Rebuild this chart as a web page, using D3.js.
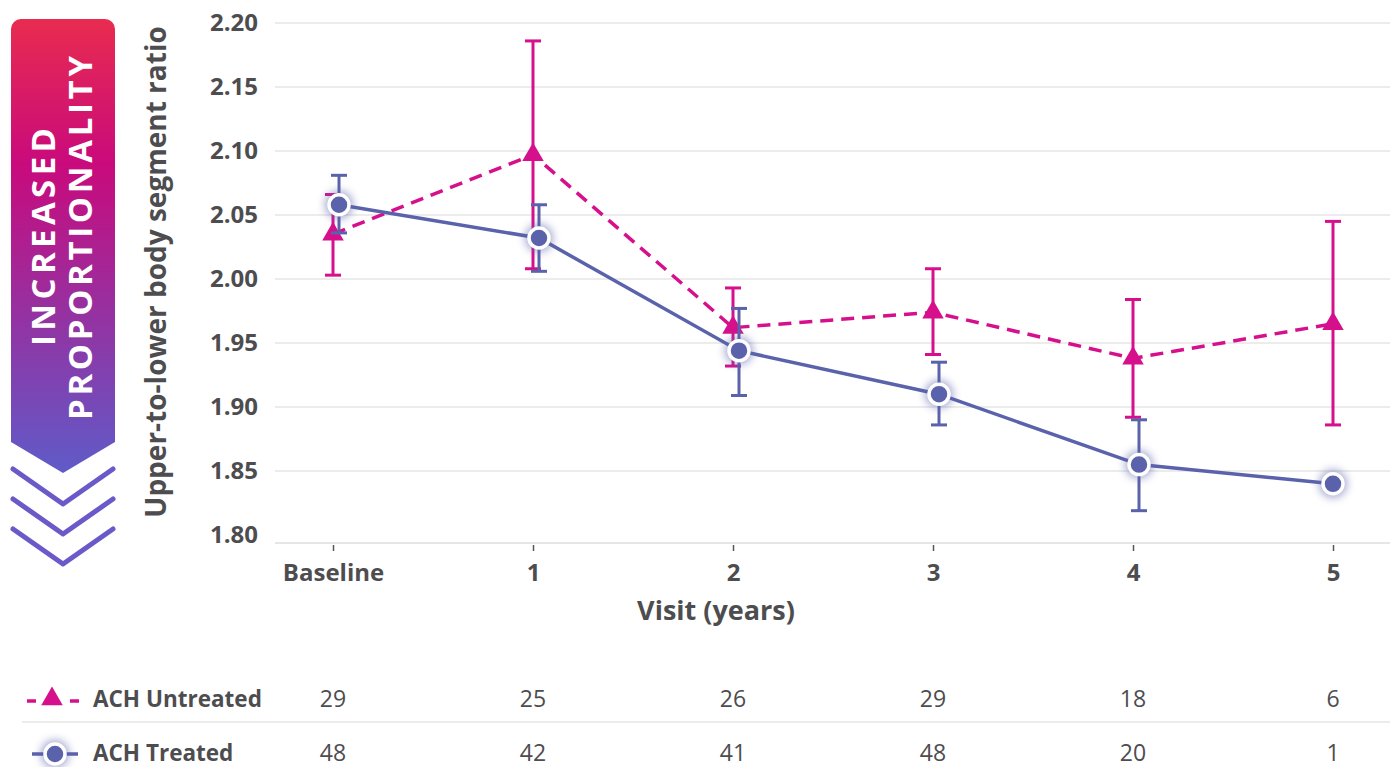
<!DOCTYPE html>
<html>
<head>
<meta charset="utf-8">
<script src="https://cdn.jsdelivr.net/npm/d3@7"></script>
<style>
  body { margin: 0; background: #fff; }
  svg { display: block; font-family: "Open Sans", sans-serif; }
</style>
</head>
<body>
<svg width="1390" height="767"></svg>
<script>
// data
let visits = ["Baseline", "1", "2", "3", "4", "5"];
let yTicks = [1.80, 1.85, 1.90, 1.95, 2.00, 2.05, 2.10, 2.15, 2.20];

let untreatedMean = [2.035, 2.097, 1.962, 1.974, 1.938, 1.965];
let untreatedLow  = [2.003, 2.008, 1.932, 1.941, 1.892, 1.886];
let untreatedHigh = [2.066, 2.186, 1.993, 2.008, 1.984, 2.045];

let treatedMean = [2.058, 2.032, 1.944, 1.910, 1.855, 1.840];
let treatedLow  = [2.036, 2.006, 1.909, 1.886, 1.819, null];
let treatedHigh = [2.081, 2.058, 1.977, 1.935, 1.890, null];

let untreatedN = [29, 25, 26, 29, 18, 6];
let treatedN   = [48, 42, 41, 48, 20, 1];

let magenta = '#d6108c';
let blue = '#5a62ab';
let textCol = '#4d4d4f';
let gridCol = '#e6e6e6';

let svg = d3.select('svg');

let x = d3.scalePoint().domain(visits).range([333, 1333]);
let y = d3.scaleLinear().domain([1.80, 2.20]).range([535, 23]);

// treated series is nudged right where it has an error bar
let tx = (d, i) => x(visits[i]) + (treatedLow[i] != null ? 6 : 0);
let ux = (d, i) => x(visits[i]);

let defs = svg.append('defs');
let grad = defs.append('linearGradient')
  .attr('id', 'bannerGrad')
  .attr('x1', 0).attr('y1', 0).attr('x2', 0).attr('y2', 1);
grad.append('stop').attr('offset', '0%').attr('stop-color', '#e82c4f');
grad.append('stop').attr('offset', '32%').attr('stop-color', '#c90a7c');
grad.append('stop').attr('offset', '100%').attr('stop-color', '#5f5bc8');

let glow = defs.append('filter').attr('id', 'glow')
  .attr('x', '-100%').attr('y', '-100%').attr('width', '300%').attr('height', '300%');
glow.append('feGaussianBlur').attr('stdDeviation', 4);

// ---- banner on the left
let banner = svg.append('g');
let bp = d3.path();
bp.moveTo(11, 29);
bp.arcTo(11, 19, 21, 19, 10);
bp.lineTo(105, 19);
bp.arcTo(115, 19, 115, 29, 10);
bp.lineTo(115, 442);
bp.lineTo(63, 473);
bp.lineTo(11, 442);
bp.closePath();
banner.append('path').attr('d', bp.toString()).attr('fill', 'url(#bannerGrad)');

[0, 30, 60].forEach(off => {
  banner.append('polyline')
    .attr('points', `13,${469 + off} 63,${504 + off} 113,${469 + off}`)
    .attr('fill', 'none')
    .attr('stroke', '#6a59c9')
    .attr('stroke-width', 5)
    .attr('stroke-linecap', 'round')
    .attr('stroke-linejoin', 'round');
});

banner.append('text')
  .attr('transform', 'translate(42,237) rotate(-90)')
  .attr('text-anchor', 'middle')
  .attr('dominant-baseline', 'central')
  .attr('fill', '#fff')
  .attr('font-weight', 700)
  .attr('font-size', 33)
  .attr('textLength', 218)
  .attr('lengthAdjust', 'spacing')
  .text('INCREASED');

banner.append('text')
  .attr('transform', 'translate(79,238) rotate(-90)')
  .attr('text-anchor', 'middle')
  .attr('dominant-baseline', 'central')
  .attr('fill', '#fff')
  .attr('font-weight', 700)
  .attr('font-size', 33)
  .attr('textLength', 364)
  .attr('lengthAdjust', 'spacing')
  .text('PROPORTIONALITY');

// ---- grid + axes
let grid = svg.append('g');
grid.selectAll('line')
  .data(yTicks.filter(t => t > 1.8))
  .enter()
  .append('line')
  .attr('x1', 275).attr('x2', 1390)
  .attr('y1', d => y(d)).attr('y2', d => y(d))
  .attr('stroke', gridCol)
  .attr('stroke-width', 1.5);

// bottom axis line sits a little below the 1.80 value
grid.append('line')
  .attr('x1', 275).attr('x2', 1390)
  .attr('y1', y(1.80) + 8).attr('y2', y(1.80) + 8)
  .attr('stroke', gridCol)
  .attr('stroke-width', 2);

let yAxis = svg.append('g')
  .attr('transform', 'translate(258,0)')
  .call(d3.axisLeft(y).tickValues(yTicks).tickFormat(d3.format('.2f')).tickSize(0).tickPadding(0));
yAxis.select('.domain').remove();
yAxis.selectAll('text')
  .attr('fill', textCol)
  .attr('font-size', 24)
  .attr('font-weight', 700)
  .attr('font-family', '"Open Sans", sans-serif')
  .attr('dy', '0.3em');

let xAxis = svg.append('g')
  .attr('transform', `translate(0,${y(1.80) + 10})`)
  .call(d3.axisBottom(x).tickSize(6).tickPadding(0));
xAxis.select('.domain').remove();
xAxis.selectAll('line').attr('stroke', '#555').attr('stroke-width', 1.5);
xAxis.selectAll('text')
  .attr('fill', textCol)
  .attr('font-size', 24)
  .attr('font-weight', 700)
  .attr('font-family', '"Open Sans", sans-serif')
  .attr('y', 36)
  .attr('dy', 0);

svg.append('text')
  .attr('x', 716).attr('y', 620)
  .attr('text-anchor', 'middle')
  .attr('fill', textCol)
  .attr('font-size', 27)
  .attr('font-weight', 700)
  .text('Visit (years)');

svg.append('text')
  .attr('transform', 'translate(155,272) rotate(-90)')
  .attr('text-anchor', 'middle')
  .attr('dominant-baseline', 'central')
  .attr('fill', textCol)
  .attr('font-size', 28)
  .attr('font-weight', 700)
  .text('Upper-to-lower body segment ratio');

// ---- error bars
let drawErr = (low, high, xf, col) => {
  let g = svg.append('g').attr('stroke', col).attr('stroke-width', 3);
  low.forEach((lo, i) => {
    if (lo == null) return;
    let cx = xf(null, i);
    g.append('line').attr('x1', cx).attr('x2', cx).attr('y1', y(lo)).attr('y2', y(high[i]));
    g.append('line').attr('x1', cx - 8).attr('x2', cx + 8).attr('y1', y(lo)).attr('y2', y(lo));
    g.append('line').attr('x1', cx - 8).attr('x2', cx + 8).attr('y1', y(high[i])).attr('y2', y(high[i]));
  });
};

drawErr(untreatedLow, untreatedHigh, ux, magenta);

// untreated line
svg.append('path')
  .datum(untreatedMean)
  .attr('d', d3.line().x(ux).y(d => y(d)))
  .attr('fill', 'none')
  .attr('stroke', magenta)
  .attr('stroke-width', 3.5)
  .attr('stroke-dasharray', '13,8');

let tri = d3.symbol().type(d3.symbolTriangle).size(200);
svg.selectAll('.tri')
  .data(untreatedMean)
  .enter()
  .append('path')
  .attr('class', 'tri')
  .attr('d', tri)
  .attr('transform', (d, i) => `translate(${ux(d, i)},${y(d)})`)
  .attr('fill', magenta);

drawErr(treatedLow, treatedHigh, tx, blue);

svg.append('path')
  .datum(treatedMean)
  .attr('d', d3.line().x(tx).y(d => y(d)))
  .attr('fill', 'none')
  .attr('stroke', blue)
  .attr('stroke-width', 3.5);

svg.selectAll('.halo')
  .data(treatedMean)
  .enter()
  .append('circle')
  .attr('class', 'halo')
  .attr('cx', tx)
  .attr('cy', d => y(d))
  .attr('r', 14)
  .attr('fill', blue)
  .attr('opacity', 0.55)
  .attr('filter', 'url(#glow)');

svg.selectAll('.dot')
  .data(treatedMean)
  .enter()
  .append('circle')
  .attr('class', 'dot')
  .attr('cx', tx)
  .attr('cy', d => y(d))
  .attr('r', 10)
  .attr('fill', blue)
  .attr('stroke', '#fff')
  .attr('stroke-width', 3.5);

// ---- table of n under the chart
let rows = [
  {name: 'ACH Untreated', n: untreatedN, col: magenta, ty: 698},
  {name: 'ACH Treated', n: treatedN, col: blue, ty: 752}
];

svg.append('line')
  .attr('x1', 22).attr('x2', 1390)
  .attr('y1', 722).attr('y2', 722)
  .attr('stroke', gridCol)
  .attr('stroke-width', 1.5);

rows.forEach((r, k) => {
  let g = svg.append('g');
  if (k === 0) {
    g.append('line').attr('x1', 27).attr('x2', 36).attr('y1', r.ty + 3).attr('y2', r.ty + 3)
      .attr('stroke', r.col).attr('stroke-width', 3.5);
    g.append('line').attr('x1', 70).attr('x2', 79).attr('y1', r.ty + 3).attr('y2', r.ty + 3)
      .attr('stroke', r.col).attr('stroke-width', 3.5);
    g.append('path').attr('d', tri).attr('transform', `translate(52,${r.ty + 1})`).attr('fill', r.col);
  } else {
    g.append('line').attr('x1', 32).attr('x2', 78).attr('y1', r.ty + 2).attr('y2', r.ty + 2)
      .attr('stroke', r.col).attr('stroke-width', 3.5);
    g.append('circle').attr('cx', 55).attr('cy', r.ty + 2).attr('r', 14)
      .attr('fill', r.col).attr('opacity', 0.55).attr('filter', 'url(#glow)');
    g.append('circle').attr('cx', 55).attr('cy', r.ty + 2).attr('r', 10)
      .attr('fill', r.col).attr('stroke', '#fff').attr('stroke-width', 3.5);
  }
  g.append('text')
    .attr('x', 93).attr('y', r.ty)
    .attr('dominant-baseline', 'central')
    .attr('fill', textCol)
    .attr('font-size', 22.5)
    .attr('font-weight', 700)
    .text(r.name);
  g.selectAll('.n')
    .data(r.n)
    .enter()
    .append('text')
    .attr('class', 'n')
    .attr('x', (d, i) => x(visits[i]))
    .attr('y', r.ty)
    .attr('text-anchor', 'middle')
    .attr('dominant-baseline', 'central')
    .attr('fill', textCol)
    .attr('font-size', 23)
    .text(d => d);
});
</script>
</body>
</html>
